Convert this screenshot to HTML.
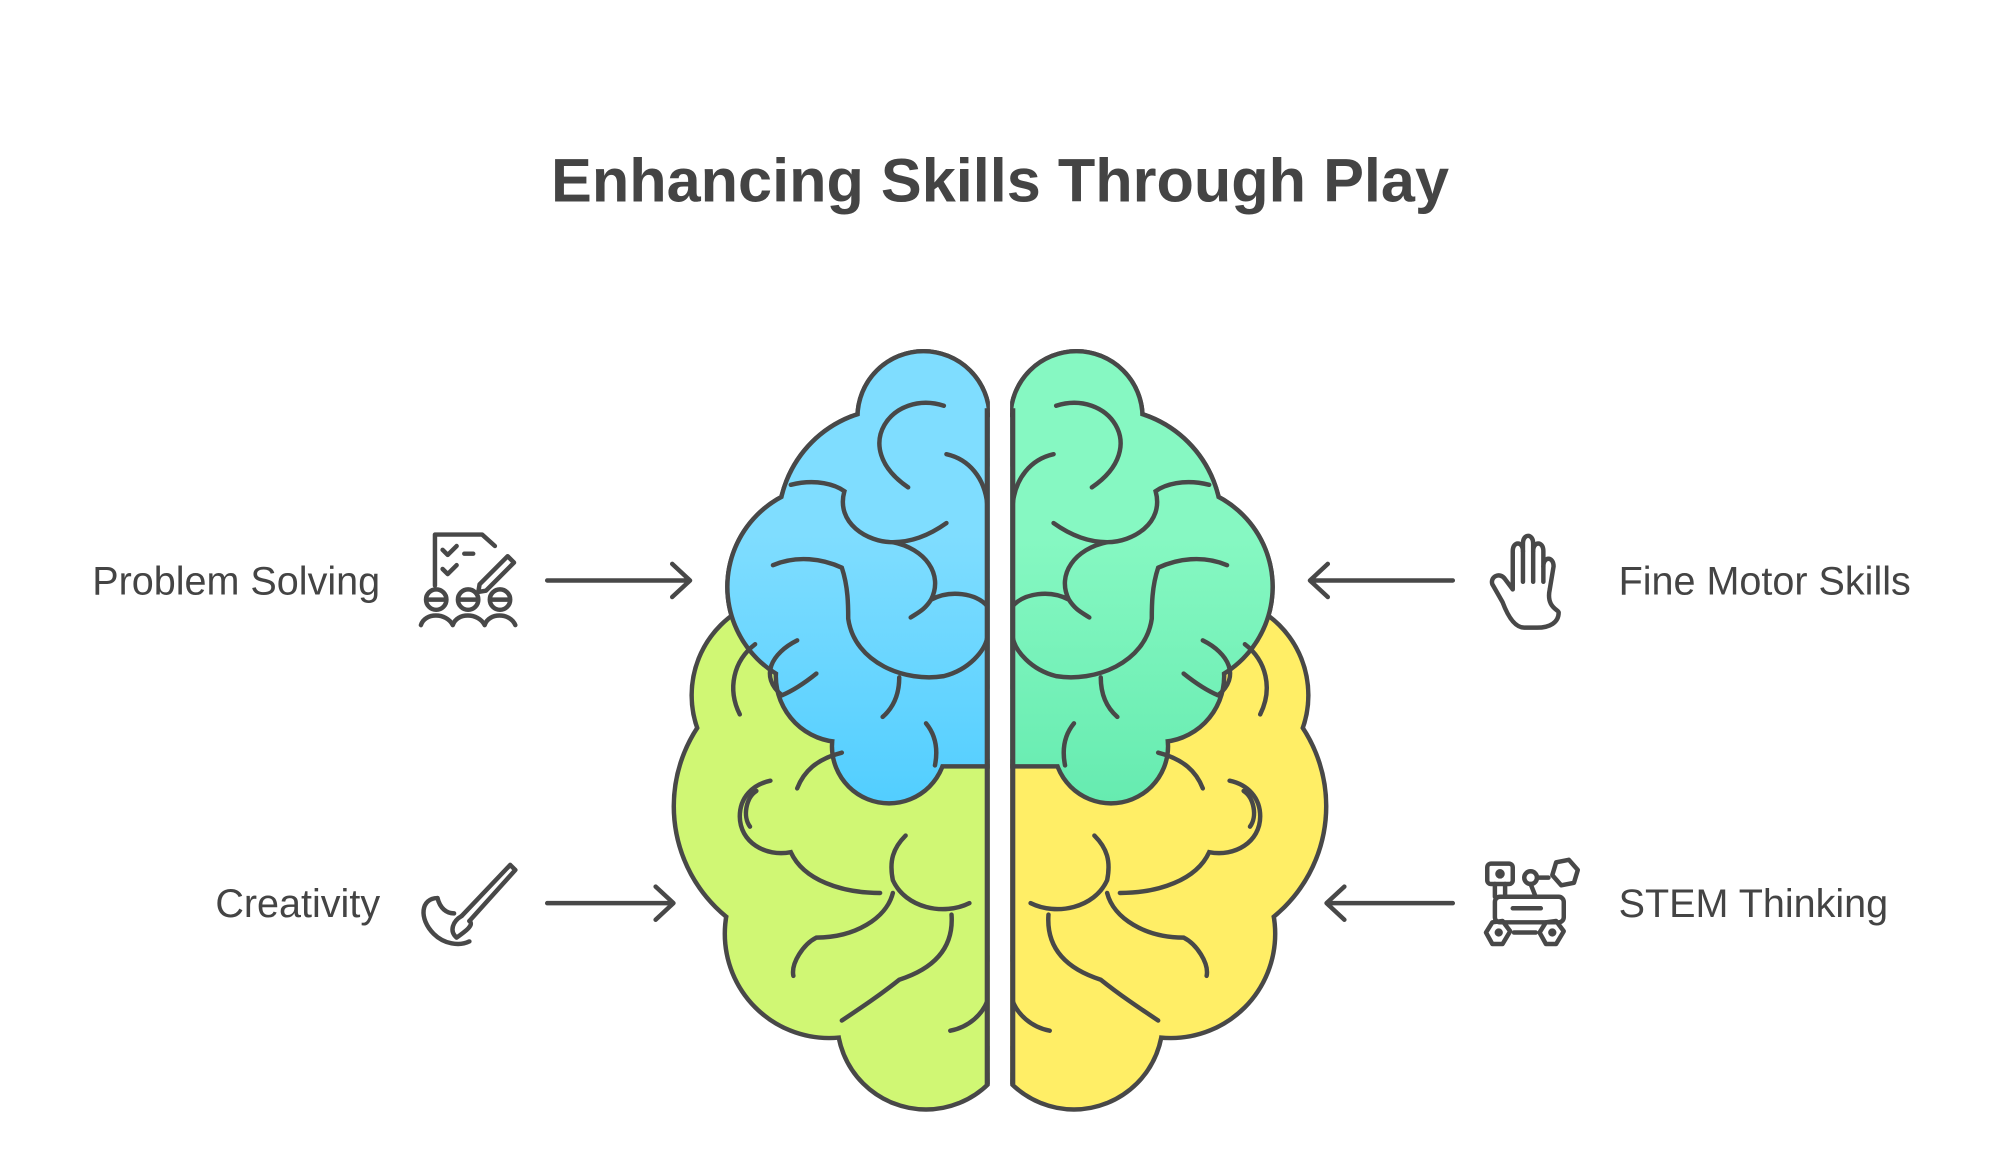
<!DOCTYPE html>
<html><head><meta charset="utf-8"><style>
html,body{margin:0;padding:0;background:#fff;}
svg{display:block;}
text{font-family:"Liberation Sans",sans-serif;fill:#444;}
</style></head><body>
<svg width="2000" height="1152" viewBox="0 0 1568 903" xmlns="http://www.w3.org/2000/svg">
<defs>
<clipPath id="cl"><rect x="0" y="0" width="776" height="903"/></clipPath>
<linearGradient id="gb" gradientUnits="userSpaceOnUse" x1="0" y1="420" x2="0" y2="630"><stop offset="0" stop-color="#7FDDFF"/><stop offset="1" stop-color="#52CEFF"/></linearGradient>
<linearGradient id="gm" gradientUnits="userSpaceOnUse" x1="0" y1="420" x2="0" y2="630"><stop offset="0" stop-color="#86F8C2"/><stop offset="1" stop-color="#66EBB0"/></linearGradient>
<g id="lower">
<circle cx="620" cy="545" r="76"/><circle cx="640" cy="632" r="110"/><circle cx="650" cy="732" r="80"/><circle cx="726" cy="800" r="68"/><rect x="690" y="440" width="90" height="380"/>
</g>
<g id="upper">
<circle cx="724" cy="327" r="50"/><circle cx="700" cy="410" r="88"/><circle cx="650" cy="460" r="78"/><circle cx="660" cy="530" r="50"/><circle cx="697" cy="585" r="43"/><rect x="700" y="327" width="80" height="272"/><rect x="690" y="540" width="90" height="55"/>
</g>
<g id="folds" fill="none" stroke="#484848" stroke-width="3.5" stroke-linecap="round">
<path d="M740 318 C700 305 665 350 712 382"/>
<path d="M742 356 C760 360 772 375 774 395"/>
<path d="M620 380 C640 375 655 380 662 385 C655 410 680 425 700 425 C720 425 735 415 742 410"/>
<path d="M700 425 C725 430 740 450 730 470 C725 478 720 480 714 484 M730 470 C745 462 765 465 774 475"/>
<path d="M606 443 C625 435 645 438 660 445 C665 460 665 475 665 485 C670 520 710 535 740 530 C760 525 772 510 774 500"/>
<path d="M625 502 C605 512 595 530 613 545"/>
<path d="M613 545 C625 540 635 532 640 528 M705 531 C705 545 700 555 692 562 M726 567 C735 578 735 590 733 600"/>
<path d="M592 505 C575 518 570 540 580 560"/>
<path d="M593 620 C585 625 582 640 588 648"/>
<path d="M604 612 C590 615 580 625 580 640 C580 660 600 672 620 668 C630 690 660 700 690 700"/>
<path d="M660 590 C640 595 630 605 625 618"/>
<path d="M710 655 C700 665 697 675 700 690 C710 712 740 718 760 708"/>
<path d="M700 700 C695 720 670 735 640 735 C630 740 620 755 622 765"/>
<path d="M746 717 C748 745 730 760 705 768 C690 780 675 790 660 800"/>
<path d="M745 808 C760 805 770 795 774 785"/>
</g>
</defs>

<text x="784" y="158" text-anchor="middle" font-size="48" font-weight="bold">Enhancing Skills Through Play</text>

<g clip-path="url(#cl)">
<use href="#lower" fill="#484848" stroke="#484848" stroke-width="7"/>
<use href="#upper" fill="#484848" stroke="#484848" stroke-width="7"/>
<use href="#lower" fill="#D0F774"/>
<use href="#upper" fill="#484848" stroke="#484848" stroke-width="7"/>
<use href="#upper" fill="url(#gb)"/>
<use href="#folds"/>
</g>
<line x1="774" y1="320" x2="774" y2="850" stroke="#484848" stroke-width="4"/>

<g transform="translate(1568,0) scale(-1,1)">
<g clip-path="url(#cl)">
<use href="#lower" fill="#484848" stroke="#484848" stroke-width="7"/>
<use href="#upper" fill="#484848" stroke="#484848" stroke-width="7"/>
<use href="#lower" fill="#FFEE66"/>
<use href="#upper" fill="#484848" stroke="#484848" stroke-width="7"/>
<use href="#upper" fill="url(#gm)"/>
<use href="#folds"/>
</g>
<line x1="774" y1="320" x2="774" y2="850" stroke="#484848" stroke-width="4"/>
</g>

<g fill="none" stroke="#484848" stroke-width="3.5" stroke-linecap="round" stroke-linejoin="round">
<path d="M429 455 H540 M527 442 L541 455 L527 468"/>
<path d="M429 708 H527 M514 695 L528 708 L514 721"/>
<path d="M1139 455 H1028 M1041 442 L1027 455 L1041 468"/>
<path d="M1139 708 H1041 M1054 695 L1040 708 L1054 721"/>
</g>

<text x="298" y="466" text-anchor="end" font-size="31">Problem Solving</text>
<text x="298" y="719" text-anchor="end" font-size="31">Creativity</text>
<text x="1269" y="466" font-size="31">Fine Motor Skills</text>
<text x="1269" y="719" font-size="31">STEM Thinking</text>

<g fill="none" stroke="#484848" stroke-width="3.5" stroke-linecap="round" stroke-linejoin="round">
<path d="M341 459 V419 H378 L388 428"/>
<path d="M347 431 L351 435 L358 428 M364 434 H371 M347 446 L351 450 L358 443"/>
<path d="M376 458 L398 436 L403 441 L381 463 L375 464 Z"/>
<circle cx="342" cy="470" r="8"/><circle cx="367" cy="470" r="8"/><circle cx="392" cy="470" r="8"/>
<path d="M336 470 H348 M361 470 H373 M386 470 H398"/>
<path d="M330 490 C333 480 350 480 355 490 C358 480 375 480 380 490 C383 480 400 480 404 490"/>
<path d="M362 718 L400 678 L404 682 L368 722"/>
<path d="M362 718 C355 722 352 730 358 735 C365 730 372 725 368 722"/>
<path d="M343 704 C330 704 328 720 340 732 C348 740 360 742 368 738"/>
<path d="M343 704 C345 712 350 716 356 716"/>
<path d="M1178 472 L1170 458 C1168 452 1176 448 1180 454 L1186 462 V432 C1186 424 1194 424 1194 432 V426 C1194 418 1202 418 1202 426 V432 C1202 424 1210 424 1210 432 V444 C1210 436 1218 436 1218 444 L1215 462 C1212 476 1222 478 1222 480 C1222 488 1215 492 1205 492 H1195 C1190 492 1184 488 1178 472 Z"/>
<path d="M1194 432 V456 M1202 432 V456 M1210 444 V456"/>
<rect x="1166" y="677" width="20" height="16" rx="3"/>
<circle cx="1176" cy="685" r="2" fill="#484848"/>
<path d="M1172 693 V703 M1180 693 V703"/>
<circle cx="1200" cy="688" r="5"/>
<path d="M1205 688 H1214 M1200 693 L1204 703"/>
<path d="M1220 676 L1230 674 L1237 682 L1234 692 L1224 694 L1217 686 Z"/>
<rect x="1172" y="703" width="54" height="20" rx="4"/>
<path d="M1186 712 H1208"/>
<path d="M1170 723 L1178 722 L1184 730 L1178 740 L1170 740 L1165 731 Z"/>
<path d="M1212 723 L1220 722 L1226 730 L1220 740 L1212 740 L1207 731 Z"/>
<circle cx="1175" cy="731" r="1.5" fill="#484848"/><circle cx="1217" cy="731" r="1.5" fill="#484848"/>
<path d="M1187 731 H1204"/>
</g>
</svg>
</body></html>
